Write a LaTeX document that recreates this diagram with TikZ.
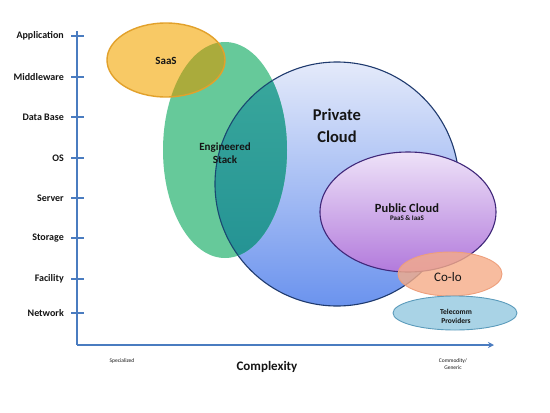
\documentclass[tikz,border=0pt]{standalone}
\usepackage{fontspec}
\setmainfont{Carlito}
\usetikzlibrary{arrows.meta}
\definecolor{axisblue}{HTML}{4A7CC0}
\definecolor{saasfill}{HTML}{F8C965}
\definecolor{saasline}{HTML}{E2A12B}
\definecolor{olive}{HTML}{AAAB3C}
\definecolor{engfill}{HTML}{66C99A}
\definecolor{tealtop}{HTML}{3AA89C}
\definecolor{tealbot}{HTML}{1F8E92}
\definecolor{privtop}{HTML}{E4EAFA}
\definecolor{privbot}{HTML}{6B93EE}
\definecolor{privline}{HTML}{1F3A6E}
\definecolor{pubtop}{HTML}{EEE2F8}
\definecolor{pubbot}{HTML}{B27ADC}
\definecolor{publine}{HTML}{40287A}
\definecolor{colofill}{HTML}{F5AC88}
\definecolor{coloine}{HTML}{EE9F7C}
\definecolor{telfill}{HTML}{A9D3E6}
\definecolor{telline}{HTML}{5B9BBB}
\definecolor{txt}{HTML}{151515}
\tikzset{
  axisline/.style={draw=axisblue, line width=1.4pt},
  tickline/.style={draw=axisblue, line width=1.2pt},
  axlabel/.style={anchor=east, inner sep=0pt, font=\fontsize{10}{11}\selectfont\bfseries, text=txt},
  smalllabel/.style={inner sep=0pt, font=\fontsize{5.5}{6.5}\selectfont, text=txt, align=center},
  biglabel/.style={inner sep=0pt, align=center, text=txt},
}
\begin{document}
\begin{tikzpicture}[x=1pt,y=-1pt]
\useasboundingbox (0,0) rectangle (550,413);
\fill[white] (0,0) rectangle (550,413);

% Private Cloud circle
\shade[top color=privtop, bottom color=privbot] (337,184) circle [radius=122pt];
\draw[privline, line width=1.1pt] (337,184) circle [radius=122pt];

% Engineered stack ellipse
\fill[engfill] (225,150) ellipse [x radius=62pt, y radius=108pt];
\begin{scope}
  \clip (225,150) ellipse [x radius=62pt, y radius=108pt];
  \shade[top color=tealtop, bottom color=tealbot] (337,184) circle [radius=122pt];
  \draw[privline!80!teal, line width=1.1pt] (337,184) circle [radius=122pt];
\end{scope}

% SaaS ellipse
\fill[saasfill] (166,60) ellipse [x radius=59pt, y radius=37pt];
\begin{scope}
  \clip (166,60) ellipse [x radius=59pt, y radius=37pt];
  \fill[olive] (225,150) ellipse [x radius=62pt, y radius=108pt];
\end{scope}
\draw[saasline, line width=1.4pt] (166,60) ellipse [x radius=59pt, y radius=37pt];

% Public Cloud ellipse
\shade[top color=pubtop, bottom color=pubbot] (408,212) ellipse [x radius=88pt, y radius=60pt];
\draw[publine, line width=1.1pt] (408,212) ellipse [x radius=88pt, y radius=60pt];

% Co-lo ellipse
\fill[colofill, fill opacity=0.8] (450,274) ellipse [x radius=52pt, y radius=22pt];
\draw[coloine, line width=0.9pt] (450,274) ellipse [x radius=52pt, y radius=22pt];

% Telecomm ellipse
\fill[telfill] (455,313) ellipse [x radius=62pt, y radius=17pt];
\draw[telline, line width=0.9pt] (455,313) ellipse [x radius=62pt, y radius=17pt];

% Axes
\coordinate (axtop) at (77,31);
\coordinate (axorigin) at (77,345);
\coordinate (axend) at (494,345);
\draw[axisline] (axtop) -- (axorigin);
\draw[axisline, -{Stealth[length=6pt,width=6pt]}] (axorigin) -- (axend);

\foreach \yy/\tt [count=\i] in {36/Application, 77/Middleware, 117/Data Base, 158/OS, 198/Server, 238/Storage, 279/Facility, 313/Network}{
  \coordinate (tl\i) at (71,\yy);
  \coordinate (tr\i) at (84,\yy);
  \draw[tickline] (tl\i) -- (tr\i);
  \node[axlabel] (lab\i) at (64,\yy) {\tt};
}

% Axis texts
\node[smalllabel] (spec) at (122,361) {Specialized};
\node[biglabel, font=\fontsize{13}{14}\selectfont\bfseries] (cplx) at (267,367) {Complexity};
\node[smalllabel] (comm) at (453,364) {Commodity/\\Generic};

% Region labels
\node[biglabel, font=\fontsize{11}{11}\selectfont\bfseries] (saas) at (166,61) {SaaS};
\node[biglabel, font=\fontsize{11}{13.5}\selectfont\bfseries] (eng) at (225,153) {Engineered\\Stack};
\node[biglabel, font=\fontsize{16.5}{22}\selectfont\bfseries] (priv) at (337,126) {Private\\Cloud};
\node[biglabel, font=\fontsize{12.5}{13}\selectfont\bfseries] (pub) at (407,208) {Public Cloud};
\node[biglabel, font=\fontsize{7}{8}\selectfont\bfseries, anchor=north] (paas) at (pub.south) [yshift=-3pt] {PaaS \& IaaS};
\node[biglabel, font=\fontsize{13}{13}\selectfont] (colo) at (448,277) {Co-lo};
\node[biglabel, font=\fontsize{7.5}{9}\selectfont\bfseries] (tel) at (456,316) {Telecomm\\Providers};
\end{tikzpicture}
\end{document}
